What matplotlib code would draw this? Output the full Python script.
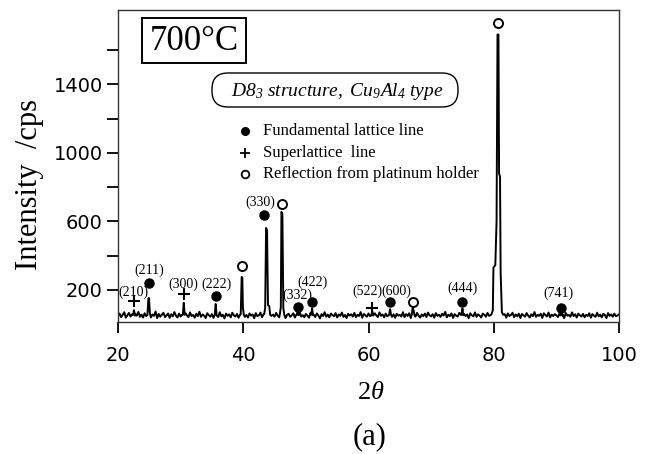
import numpy as np
import matplotlib
matplotlib.use("Agg")
import matplotlib.pyplot as plt
from matplotlib.patches import Rectangle, FancyBboxPatch
from matplotlib.transforms import IdentityTransform

plt.rcParams["font.family"] = ["Liberation Serif", "DejaVu Serif"]
plt.rcParams["mathtext.fontset"] = "custom"
# every mathtext string here is italic, digits included
plt.rcParams["mathtext.rm"] = "Liberation Serif:italic"
plt.rcParams["mathtext.it"] = "Liberation Serif:italic"

# background counts, read every 0.25 deg from 20 to 100
bg_start, bg_step = 20.0, 0.25
bg_counts = [
    48, 62, 41, 55, 70, 38, 52, 66, 45, 58, 35, 61, 50, 72, 43, 56, 39, 64, 47, 53,
    68, 40, 57, 49, 74, 36, 60, 44, 55, 67, 42, 51, 63, 37, 58, 46, 71, 50, 39, 62,
    45, 56, 33, 65, 52, 41, 69, 48, 54, 38, 61, 47, 73, 43, 57, 50, 36, 64, 53, 44,
    59, 37, 66, 51, 42, 70, 46, 55, 34, 62, 49, 58, 40, 67, 52, 45, 60, 38, 56, 48,
    71, 43, 54, 39, 63, 50, 57, 35, 65, 47, 52, 68, 41, 59, 46, 54, 37, 62, 49, 56,
    44, 66, 51, 40, 58, 47, 69, 36, 55, 61, 43, 52, 64, 39, 57, 48, 72, 45, 53, 41,
    60, 50, 38, 67, 46, 55, 42, 63, 51, 34, 59, 48, 70, 44, 56, 40, 62, 53, 47, 65,
    39, 57, 49, 68, 43, 54, 36, 61, 50, 58, 45, 66, 41, 55, 48, 71, 38, 60, 52, 44,
    63, 47, 56, 35, 64, 51, 42, 69, 49, 57, 40, 62, 46, 54, 67, 43, 58, 37, 61, 50,
    55, 45, 70, 41, 59, 48, 64, 36, 53, 60, 44, 66, 50, 39, 57, 47, 62, 42, 68, 52,
    46, 58, 38, 65, 49, 55, 43, 61, 51, 72, 40, 56, 47, 63, 37, 59, 50, 45, 67, 54,
    41, 60, 48, 57, 35, 64, 52, 46, 69, 43, 58, 50, 39, 62, 55, 44, 66, 49, 53, 40,
    61, 47, 56, 42, 70, 51, 45, 59, 38, 63, 48, 54, 67, 41, 57, 46, 62, 36, 60, 52,
    44, 65, 50, 39, 58, 47, 71, 43, 55, 49, 61, 37, 64, 53, 45, 68, 40, 56, 48, 59,
    51, 42, 63, 46, 57, 35, 66, 50, 54, 44, 69, 47, 58, 39, 62, 52, 45, 60, 41, 55,
    48, 64, 38, 59, 50, 43, 67, 46, 56, 40, 61, 53, 36, 65, 49, 57, 44, 62, 47, 51,
    58,
]

# peak profiles (2theta, cps)
peaks = [
    [(22.40, 55), (22.55, 82), (22.70, 50)],
    [(24.70, 55), (24.85, 150), (24.95, 153), (25.10, 60)],
    [(30.35, 55), (30.50, 125), (30.65, 55)],
    [(35.45, 55), (35.60, 118), (35.75, 52)],
    [(39.60, 58), (39.75, 276), (39.85, 270), (39.95, 95), (40.10, 55)],
    [(43.35, 60), (43.50, 95), (43.65, 562), (43.80, 545), (43.95, 112), (44.15, 105), (44.30, 55)],
    [(45.85, 60), (46.00, 100), (46.10, 655), (46.25, 640), (46.40, 95), (46.55, 55)],
    [(48.55, 55), (48.70, 82), (48.85, 52)],
    [(50.85, 55), (51.00, 92), (51.15, 52)],
    [(60.45, 52), (60.60, 75), (60.75, 50)],
    [(63.30, 55), (63.45, 88), (63.60, 55)],
    [(66.90, 55), (67.05, 92), (67.20, 80), (67.35, 52)],
    [(74.85, 55), (75.00, 92), (75.15, 52)],
    [(79.60, 55), (79.85, 80), (79.95, 330), (80.25, 345), (80.45, 600), (80.60, 1690),
     (80.75, 1690), (80.85, 880), (81.00, 860), (81.10, 300), (81.30, 70), (81.50, 55)],
    [(90.65, 52), (90.80, 70), (90.95, 50)],
]

# index markers
fund_x = [24.95, 35.65, 43.3, 48.75, 51.0, 63.45, 74.95, 90.77]
fund_y = [241, 165, 638, 101, 130, 130, 130, 95]
super_x = [22.55, 30.55, 60.57]
super_y = [136, 177, 95]
pt_x = [39.8, 46.2, 67.1, 80.7]
pt_y = [337, 702, 130, 1758]

hkl_labels = ["(210)", "(211)", "(300)", "(222)", "(330)", "(332)",
              "(422)", "(522)", "(600)", "(444)", "(741)"]
hkl_x = [22.4, 25.0, 30.4, 35.7, 42.7, 48.6, 51.1, 59.9, 64.4, 75.0, 90.4]
hkl_y = [188, 317, 235, 235, 713, 171, 247, 190, 192, 212, 182]

legend_labels = ["Fundamental lattice line", "Superlattice  line",
                 "Reflection from platinum holder"]

# build the trace
bg_x = bg_start + bg_step * np.arange(len(bg_counts))
bg_y = np.array(bg_counts, dtype=float)
keep = np.ones(len(bg_x), bool)
for p in peaks:
    keep &= ~((bg_x >= p[0][0]) & (bg_x <= p[-1][0]))
px = np.concatenate([bg_x[keep]] + [np.array([v[0] for v in p]) for p in peaks])
py = np.concatenate([bg_y[keep]] + [np.array([v[1] for v in p]) for p in peaks])
order = np.argsort(px)
px, py = px[order], py[order]

W, H = 653, 454
fig = plt.figure(figsize=(W / 100, H / 100), dpi=100)
ax = fig.add_axes([118 / W, 1 - 322 / H, 501 / W, 312 / H])

ax.plot(px, py, color="black", lw=1.4)
ax.plot(fund_x, fund_y, "o", color="black", ms=6.5, ls="none")
ax.plot(super_x, super_y, "+", color="black", ms=8, mew=1.5, ls="none")
ax.plot(pt_x, pt_y, "o", mfc="white", mec="black", ms=6.5, mew=1.4, ls="none")
for lab, x, y in zip(hkl_labels, hkl_x, hkl_y):
    ax.text(x, y, lab, ha="center", va="center", fontsize=10)

ax.set_xlim(20, 100)
ax.set_ylim(13, 1833)
ax.set_xticks([20, 40, 60, 80, 100])
ax.set_yticks([200, 600, 1000, 1400])
ax.set_yticks([400, 800, 1200, 1600], minor=True)
ax.tick_params(axis="both", which="both", direction="out", length=8, width=1.3,
               labelsize=14, top=False, right=False)
ax.tick_params(axis="x", pad=9)
ax.tick_params(axis="y", pad=3)
for lab in ax.get_xticklabels() + ax.get_yticklabels():
    lab.set_fontfamily("DejaVu Sans")
for s in ax.spines.values():
    s.set_color("#333333")
    s.set_linewidth(1.0)

# 700 C box
fig.patches.append(Rectangle((142 / W, 1 - 63 / H), 104 / W, 45 / H,
                             transform=fig.transFigure, fill=False,
                             ec="black", lw=1.4))
fig.text(194 / W, 1 - 41 / H, "700°C", ha="center", va="center", fontsize=25)

# structure box
fig.patches.append(FancyBboxPatch((212, H - 107), 246, 34,
                                  boxstyle="round,pad=0,rounding_size=16",
                                  transform=IdentityTransform(), fill=False,
                                  ec="black", lw=1.0))
fig.text(337 / W, 1 - 91 / H,
         r"$D8_3\ structure,\ Cu_9Al_4\ type$",
         ha="center", va="center", fontsize=14)

# legend
leg_y = [131, 153, 174]
sym = [dict(marker="o", color="black", ms=5.5),
       dict(marker="+", color="black", ms=7, mew=1.3),
       dict(marker="o", mfc="white", mec="black", ms=5.5, mew=1.3)]
for yy, lab, kw in zip(leg_y, legend_labels, sym):
    ax.plot([245 / W], [1 - yy / H], transform=fig.transFigure, clip_on=False,
            ls="none", **kw)
    fig.text(263 / W, 1 - yy / H, lab, ha="left", va="center", fontsize=12)

fig.text(30 / W, 1 - 185 / H, "Intensity  /cps", rotation=90,
         ha="center", va="center", fontsize=22)
fig.text(371 / W, 1 - 393 / H, r"2$\theta$", ha="center", va="center",
         fontsize=19)
fig.text(370 / W, 1 - 437 / H, "(a)", ha="center", va="center", fontsize=22)

fig.savefig("out.png", dpi=100)
